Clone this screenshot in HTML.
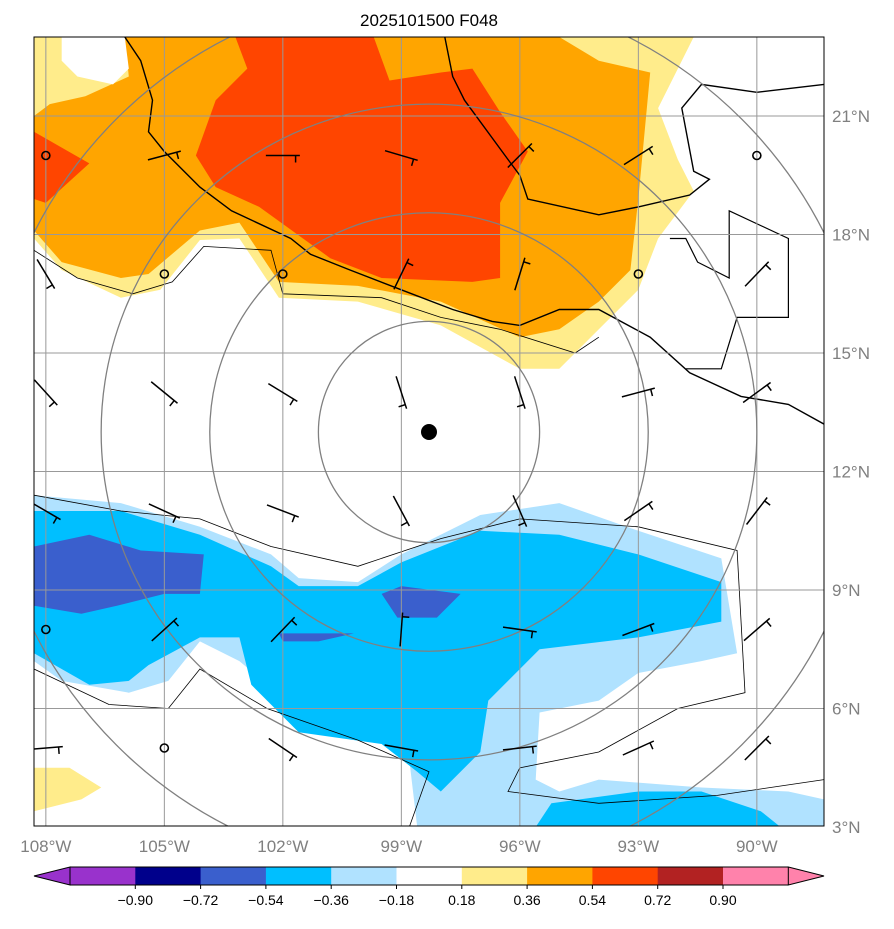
<!DOCTYPE html>
<html><head><meta charset="utf-8"><style>
body{margin:0;background:#fff;}
svg text{font-family:"Liberation Sans","DejaVu Sans",sans-serif;}
</style></head><body>
<svg id="chart" width="894" height="924" xmlns="http://www.w3.org/2000/svg">
<text x="429" y="26" font-size="17" text-anchor="middle">2025101500 F048</text>
<defs><clipPath id="clip"><rect x="34" y="37" width="790" height="789"/></clipPath></defs>
<g id="fills" clip-path="url(#clip)"></g>
<g id="coast" clip-path="url(#clip)"></g>
<g id="grid" clip-path="url(#clip)"></g>
<g id="barbs" clip-path="url(#clip)"></g>
<rect x="34" y="37" width="790" height="789" fill="none" stroke="#000" stroke-width="1"/>
<g id="axes"></g>
<g id="cbar"></g>
</svg>
<script>
const lonTicks=[-108,-105,-102,-99,-96,-93,-90];
const latTicks=[3,6,9,12,15,18,21];
const lonLabels=["108°W","105°W","102°W","99°W","96°W","93°W","90°W"];
const latLabels=["3°N","6°N","9°N","12°N","15°N","18°N","21°N"];
const cbarLevels=["−0.90","−0.72","−0.54","−0.36","−0.18","0.18","0.36","0.54","0.72","0.90"];
const cbarColors=["#9932cc","#00008b","#3a5fcd","#00bfff","#b0e2ff","#ffffff","#ffec8b","#ffa500","#ff4500","#b22222","#ff82ab"];
const center=[-98.3,13.0];
const ringRadii=[2.8,5.55,8.3,11.2];
// fill polygons [lon,lat]
const yellowTop=[[-108.3,23],[-108.3,17.9],[-107.6,17.1],[-106.1,16.4],[-105.1,16.6],[-104.1,17.86],[-103.1,17.9],[-102.1,16.4],[-100.1,16.3],[-98.0,15.7],[-96.0,14.6],[-95.0,14.6],[-94.0,15.6],[-93.0,16.6],[-92.5,17.9],[-91.6,19.1],[-92.0,19.9],[-92.5,21.2],[-91.6,23]];
const whiteTopLeft=[[-107.6,23],[-106.0,23],[-105.9,22.2],[-106.3,21.8],[-107.2,22.0],[-107.6,22.4]];
const orangeTop=[[-108.3,21.0],[-108.3,18.1],[-107.6,17.3],[-106.1,16.9],[-105.4,17.0],[-104.1,18.1],[-103.1,18.3],[-102.1,16.8],[-100.1,16.7],[-98.0,16.3],[-96.0,15.4],[-95.0,15.6],[-94.0,16.3],[-93.2,17.1],[-93.0,18.9],[-92.7,22.1],[-94.0,22.4],[-95.0,23],[-106.0,23],[-105.9,22.0],[-107.0,21.5],[-107.9,21.3]];
const redLeft=[[-108.3,20.6],[-108.3,18.9],[-108.0,18.8],[-106.9,19.8]];
const redMain=[[-103.2,23],[-102.9,22.2],[-103.7,21.4],[-104.2,20.0],[-103.7,19.2],[-102.6,18.7],[-100.8,17.4],[-99.5,16.9],[-97.2,16.8],[-96.5,16.9],[-96.5,18.8],[-95.8,20.1],[-96.5,21.1],[-97.2,22.2],[-98.0,22.1],[-99.3,21.9],[-99.7,23]];
const lightBlue=[[-108.3,11.4],[-106.1,11.2],[-104.1,10.6],[-102.3,9.9],[-101.6,9.3],[-100.1,9.2],[-99.0,9.9],[-97.0,10.9],[-95.0,11.2],[-93.0,10.5],[-90.9,9.8],[-90.5,7.4],[-91.4,7.2],[-93.0,6.9],[-94.0,6.2],[-95.5,5.9],[-95.6,4.2],[-95.0,3.9],[-94.0,4.2],[-91.4,4.0],[-89.2,3.9],[-88.3,3.7],[-88.3,3],[-98.6,3],[-98.8,4.7],[-100.1,5.7],[-101.9,6.2],[-103.1,7.2],[-104.1,7.7],[-104.9,6.7],[-105.9,6.4],[-107.6,6.7],[-108.3,7.2]];
const skyBlue=[[-108.3,11.0],[-106.1,11.0],[-104.1,10.4],[-102.3,9.6],[-101.6,9.1],[-100.1,9.1],[-99.0,9.7],[-97.0,10.5],[-95.0,10.4],[-93.0,9.9],[-90.9,9.2],[-90.9,8.2],[-93.0,7.8],[-95.5,7.5],[-96.8,6.2],[-97.0,4.9],[-98.0,3.9],[-98.6,4.4],[-99.5,5.1],[-101.6,5.4],[-102.8,6.6],[-103.1,7.8],[-104.1,7.8],[-105.4,7.1],[-105.9,6.7],[-106.9,6.6],[-108.3,7.4]];
const skyBlue2=[[-95.6,3],[-95.2,3.6],[-93.0,3.9],[-91.4,3.9],[-89.9,3.4],[-89.4,3]];
const royalLeft=[[-108.3,10.1],[-106.9,10.4],[-105.6,10.0],[-104.0,9.9],[-104.1,8.9],[-105.0,8.9],[-106.2,8.6],[-107.1,8.4],[-108.3,8.6]];
const royalMid=[[-99.5,8.9],[-99.0,9.1],[-97.5,8.9],[-98.1,8.3],[-99.1,8.3]];
const royalSmall=[[-102.1,7.9],[-100.2,7.9],[-101.1,7.7],[-102.0,7.7]];
const yellowBL=[[-108.3,4.5],[-107.4,4.5],[-106.6,4.0],[-107.1,3.7],[-108.3,3.4]];
// coastlines [lon,lat]
const coastPacific=[[-106.0,23],[-105.6,22.4],[-105.3,21.4],[-105.4,20.6],[-105.0,20.1],[-104.1,19.2],[-103.3,18.6],[-101.8,17.9],[-101.3,17.5],[-100.3,17.1],[-99.0,16.6],[-97.7,16.1],[-96.7,15.8],[-96.0,15.7],[-95.0,16.1],[-94.0,16.1],[-92.7,15.4],[-91.7,14.5],[-90.4,13.9],[-89.2,13.7],[-88.3,13.2]];
const coastGulf=[[-97.9,23],[-97.7,22.0],[-97.4,21.4],[-96.3,19.9],[-96.0,19.5],[-95.8,18.9],[-94.0,18.5],[-93.0,18.7],[-91.7,19.0],[-91.2,19.4],[-91.6,19.6],[-91.9,21.2],[-91.4,21.8],[-90.0,21.6],[-88.3,21.8]];
const border=[[-92.2,17.9],[-91.8,17.9],[-91.5,17.3],[-90.7,16.9],[-90.7,18.6],[-89.2,17.9],[-89.2,15.9],[-90.5,15.9],[-90.9,14.6],[-91.8,14.6]];
// thin contour lines
const contour1=[[-108.3,11.4],[-106.1,11.0],[-104.1,10.8],[-102.3,10.1],[-100.1,9.6],[-98.0,10.3],[-96.0,10.8],[-93.0,10.6],[-90.5,10.0],[-90.3,6.4],[-92.0,6.0],[-94.0,4.9],[-96.0,4.5],[-96.3,3.9],[-94.0,3.6],[-91.0,3.8],[-88.3,4.2]];
const contour2=[[-108.3,7.0],[-106.4,6.1],[-104.9,6.0],[-104.1,7.0],[-102.4,6.0],[-100.1,5.2],[-98.3,4.4],[-98.8,3]];
const contour3=[[-108.3,17.6],[-107.2,16.9],[-105.8,16.5],[-104.8,16.8],[-104.0,17.7],[-102.3,17.6],[-102.0,16.5],[-99.5,16.4],[-98.0,15.9],[-96.5,15.6],[-94.6,15.0],[-94.0,15.4]];
// wind barbs: station lon/lat, staff components (u east, v north)
const barbLon=[-108,-105,-102,-99,-96,-93,-90];
const barbLat=[20,17,14,11,8,5];
const barbU=[
 [0,0.75,0.75,0.85,0.5,0.6,0],
 [0.35,0,0,0.3,0.18,0,0.5],
 [0.5,0.55,0.62,0.22,0.22,0.68,0.52],
 [0.55,0.7,0.65,0.32,0.28,0.58,0.42],
 [0,0.55,0.48,0.05,0.7,0.85,0.52],
 [0.62,0,0.62,0.68,0.7,0.62,0.5]];
const barbV=[
 [0,0.2,0,-0.25,0.5,0.38,0],
 [-0.58,0,0,0.62,0.58,0,0.52],
 [-0.55,-0.45,-0.38,-0.68,-0.68,0.18,0.38],
 [-0.32,-0.32,-0.25,-0.6,-0.65,0.4,0.55],
 [0,0.5,0.5,0.68,-0.1,0.32,0.45],
 [0.05,0,-0.42,-0.12,0.08,0.28,0.5]];
const dotMark=[-98.3,13.0];

const NS="http://www.w3.org/2000/svg";
const pxPerDeg=39.5, lon0=-108.3, lat0=23, X0=34, Y0=37;
const xs=lon=>X0+(lon-lon0)*pxPerDeg;
const ys=lat=>Y0+(lat0-lat)*pxPerDeg;
function mk(tag,attrs,parent){const e=document.createElementNS(NS,tag);for(const k in attrs)e.setAttribute(k,attrs[k]);parent.appendChild(e);return e;}
const pts=a=>a.map(p=>xs(p[0]).toFixed(1)+","+ys(p[1]).toFixed(1)).join(" ");
const fills=document.getElementById('fills');
function poly(a,col,name){const e=mk('polygon',{points:pts(a),fill:col,stroke:'none'},fills);

}
poly(yellowTop,'#ffec8b','fill-yellow-north');
poly(orangeTop,'#ffa500','fill-orange-north');
poly(whiteTopLeft,'#ffffff','fill-white-northwest');
poly(redLeft,'#ff4500','fill-red-west');
poly(redMain,'#ff4500','fill-red-main');
poly(lightBlue,'#b0e2ff','fill-lightblue');
poly(skyBlue,'#00bfff','fill-skyblue');
poly(skyBlue2,'#00bfff','fill-skyblue-south');
poly(royalLeft,'#3a5fcd','fill-royalblue-west');
poly(royalMid,'#3a5fcd','fill-royalblue-mid');
poly(royalSmall,'#3a5fcd','fill-royalblue-small');
poly(yellowBL,'#ffec8b','fill-yellow-southwest');
const coast=document.getElementById('coast');
function line(a,w,name){const e=mk('polyline',{points:pts(a),fill:'none',stroke:'#000','stroke-width':w},coast);

}
line(contour1,0.8,'contour-line');line(contour2,0.8,'contour-line');line(contour3,0.8,'contour-line');
line(coastPacific,1.4,'coastline-pacific');line(coastGulf,1.4,'coastline-gulf');line(border,1.2,'country-border');
const grid=document.getElementById('grid');
lonTicks.forEach(l=>{const e=mk('line',{x1:xs(l),x2:xs(l),y1:37,y2:826,stroke:'#999','stroke-width':1},grid);

});
latTicks.forEach(l=>{const e=mk('line',{x1:34,x2:824,y1:ys(l),y2:ys(l),stroke:'#999','stroke-width':1},grid);

});
ringRadii.forEach(r=>{const e=mk('circle',{cx:xs(center[0]),cy:ys(center[1]),r:r*pxPerDeg,fill:'none',stroke:'#808080','stroke-width':1.3},grid);

});
const barbs=document.getElementById('barbs');
barbLat.forEach((la,i)=>barbLon.forEach((lo,j)=>{
 const cx=xs(lo),cy=ys(la),u=barbU[i][j],v=barbV[i][j];
 if(u===0&&v===0){const c=mk('circle',{cx:cx,cy:cy,r:4,fill:'none',stroke:'#000','stroke-width':1.6},barbs);
 
 return;}
 const L=34, m=Math.hypot(u,v), dx=u/m*L/2, dy=-v/m*L/2;
 const g=mk('g',{},barbs);
 
 
 mk('line',{x1:cx-dx,y1:cy-dy,x2:cx+dx,y2:cy+dy,stroke:'#000','stroke-width':1.5},g);
 const nx=-dy/(L/2)*7, ny=dx/(L/2)*7, ex=cx+dx*0.75, ey=cy+dy*0.75;
 mk('line',{x1:ex,y1:ey,x2:ex+nx,y2:ey+ny,stroke:'#000','stroke-width':1.5},g);
}));
const dot=mk('circle',{cx:xs(dotMark[0]),cy:ys(dotMark[1]),r:8,fill:'#000'},barbs);


const axes=document.getElementById('axes');
lonTicks.forEach((l,i)=>{const t=mk('text',{x:xs(l),y:852,'font-size':17,fill:'#808080','text-anchor':'middle'},axes);t.textContent=lonLabels[i];

});
latTicks.forEach((l,i)=>{const t=mk('text',{x:832,y:ys(l)+6,'font-size':17,fill:'#808080'},axes);t.textContent=latLabels[i];

});
const cb=document.getElementById('cbar');
const bx0=70,bw=65.3,cy0=867,ch=18;
cbarColors.forEach((c,i)=>{const r=mk('rect',{x:bx0+i*bw,y:cy0,width:bw+0.5,height:ch,fill:c},cb);

});
const tl=mk('polygon',{points:`34,${cy0+ch/2} ${bx0},${cy0} ${bx0},${cy0+ch}`,fill:'#9932cc',stroke:'#000'},cb);


const xe=bx0+cbarColors.length*bw;
const tr=mk('polygon',{points:`${xe},${cy0} 824,${cy0+ch/2} ${xe},${cy0+ch}`,fill:'#ff82ab',stroke:'#000'},cb);


const ft=mk('line',{x1:bx0,y1:cy0,x2:xe,y2:cy0,stroke:'#000'},cb);


const fb=mk('line',{x1:bx0,y1:cy0+ch,x2:xe,y2:cy0+ch,stroke:'#000'},cb);


cbarLevels.forEach((s,i)=>{const x=bx0+(i+1)*bw;
 const tk=mk('line',{x1:x,x2:x,y1:cy0+ch,y2:cy0+ch+4,stroke:'#000'},cb);
 
 
 const t=mk('text',{x:x,y:cy0+ch+20,'font-size':14,'text-anchor':'middle',fill:'#000'},cb);t.textContent=s;
 
 });
</script>
</body></html>
